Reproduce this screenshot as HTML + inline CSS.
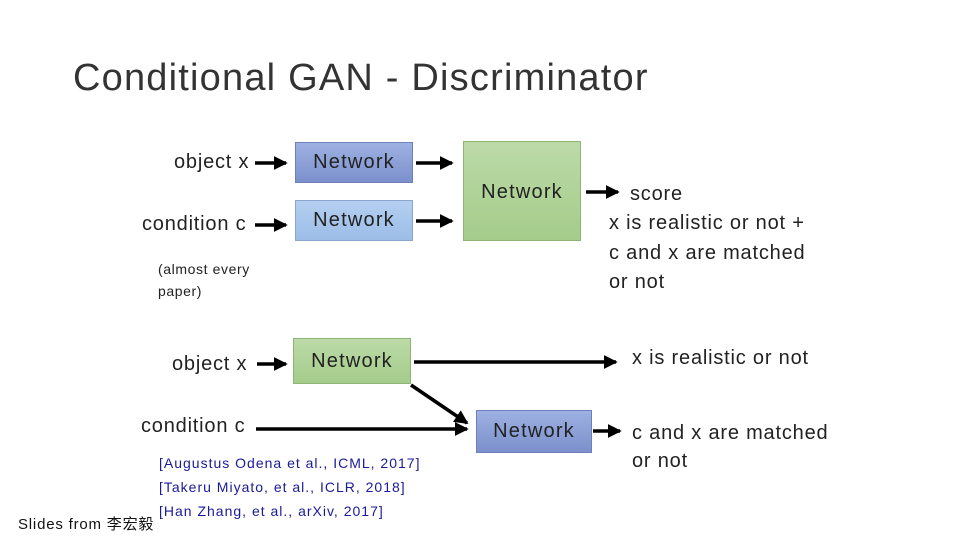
<!DOCTYPE html>
<html><head><meta charset="utf-8"><style>
body{margin:0;width:960px;height:540px;background:#fff;position:relative;overflow:hidden;font-family:"Liberation Sans","Noto Sans CJK SC",sans-serif;color:#222}
.t{position:absolute;white-space:nowrap;font-size:20px;letter-spacing:0.8px}
.box{position:absolute;border:1px solid #7a8fb8;box-sizing:border-box;display:flex;align-items:center;justify-content:center;font-size:20px;letter-spacing:1.2px;color:#222}
.blue1{background:linear-gradient(#9eb1e2,#7b90cc);border-color:#6d80b8}
.blue2{background:linear-gradient(#b4cff0,#9dbde8);border-color:#8aa6cf}
.green{background:linear-gradient(#bcdaa8,#a4cc8a);border-color:#8fb476}
.ref{position:absolute;color:#1a1a9a;font-size:14px;letter-spacing:1px;white-space:nowrap}
</style></head><body>
<div class="t" style="left:73px;top:57px;font-size:38px;letter-spacing:1.2px;color:#333">Conditional GAN - Discriminator</div>
<div class="t" style="left:174px;top:151px">object x</div>
<div class="t" style="left:142px;top:213px">condition c</div>
<div class="t" style="left:158px;top:258px;font-size:14px;line-height:22px;letter-spacing:0.6px">(almost every<br>paper)</div>
<div class="t" style="left:172px;top:353px">object x</div>
<div class="t" style="left:141px;top:415px">condition c</div>
<div class="box blue1" style="left:295px;top:142px;width:118px;height:41px">Network</div>
<div class="box blue2" style="left:295px;top:200px;width:118px;height:41px">Network</div>
<div class="box green" style="left:463px;top:141px;width:118px;height:100px;align-items:flex-start;padding-top:39px">Network</div>
<div class="box green" style="left:293px;top:338px;width:118px;height:46px">Network</div>
<div class="box blue1" style="left:476px;top:410px;width:116px;height:43px">Network</div>
<div class="t" style="left:630px;top:180px;line-height:29.5px">score</div>
<div class="t" style="left:609px;top:209px;line-height:29.5px">x is realistic or not +<br>c and x are matched<br>or not</div>
<div class="t" style="left:632px;top:347px">x is realistic or not</div>
<div class="t" style="left:632px;top:419px;line-height:28px">c and x are matched<br>or not</div>
<div class="ref" style="left:159px;top:455px">[Augustus Odena et al., ICML, 2017]</div>
<div class="ref" style="left:159px;top:479px">[Takeru Miyato, et al., ICLR, 2018]</div>
<div class="ref" style="left:159px;top:503px">[Han Zhang, et al., arXiv, 2017]</div>
<div class="t" style="left:18px;top:513px;font-size:15px;letter-spacing:0.8px;color:#111">Slides from 李宏毅</div>
<svg width="960" height="540" style="position:absolute;left:0;top:0">
<defs><marker id="a" markerWidth="4" markerHeight="4" refX="3.5" refY="2" orient="auto"><path d="M0,0 L4,2 L0,4z" fill="#000"/></marker></defs>
<g stroke="#000" stroke-width="3.5" marker-end="url(#a)">
<line x1="255" y1="163" x2="286" y2="163"/>
<line x1="255" y1="225" x2="286" y2="225"/>
<line x1="416" y1="163" x2="452" y2="163"/>
<line x1="416" y1="221" x2="452" y2="221"/>
<line x1="586" y1="192" x2="618" y2="192"/>
<line x1="257" y1="364" x2="286" y2="364"/>
<line x1="414" y1="362" x2="616" y2="362"/>
<line x1="411" y1="385" x2="467" y2="423"/>
<line x1="256" y1="429" x2="467" y2="429"/>
<line x1="593" y1="431" x2="620" y2="431"/>
</g></svg>
</body></html>
